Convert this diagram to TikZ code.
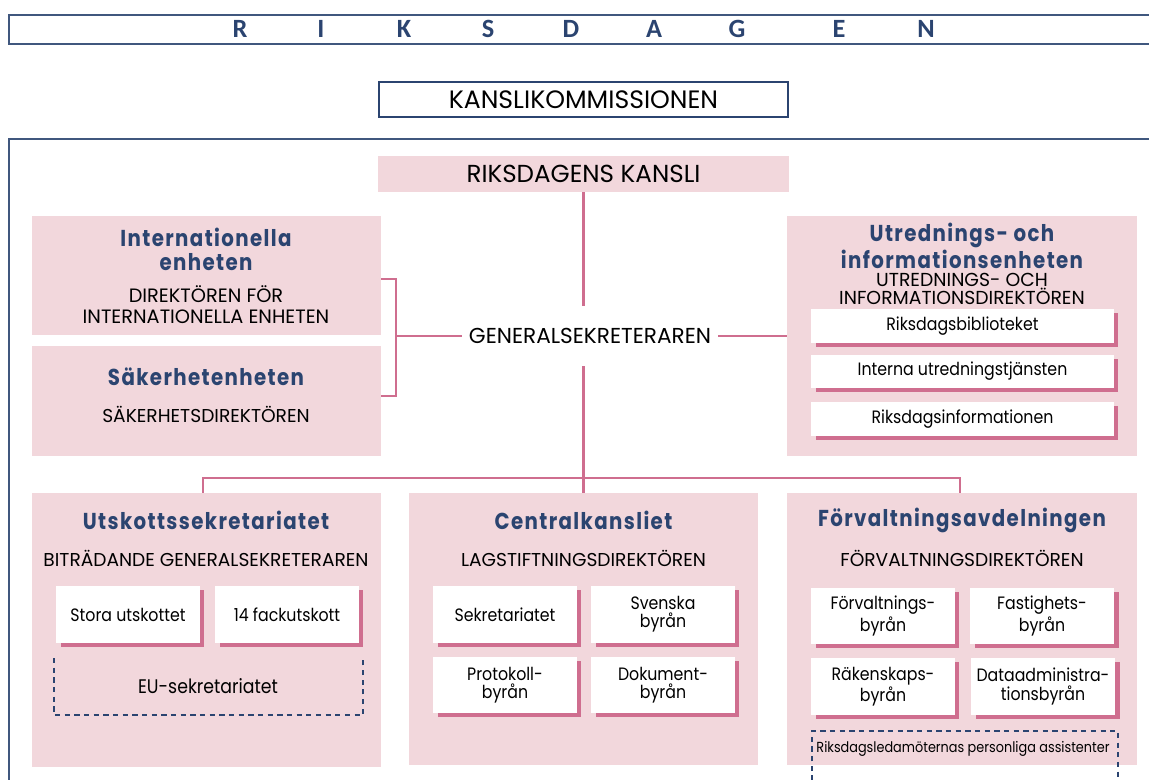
\documentclass[tikz,border=0pt]{standalone}
\usepackage{fontspec}
\setmainfont{Poppins}
\newfontfamily\subfont{Poppins}[FakeStretch=0.88]
\newfontfamily\bandfont{Carlito}
\newfontfamily\headfont{Poppins}[FakeStretch=0.86,LetterSpace=6]
\usetikzlibrary{fit,shadows}

\definecolor{pinkbg}{HTML}{F2D7DC}
\definecolor{rose}{HTML}{CF6E8F}
\definecolor{navy}{HTML}{2B4470}

\tikzset{
  unit/.style={fill=pinkbg,inner sep=0pt},
  head/.style={font=\headfont\bfseries\fontsize{13.1}{13.7}\selectfont,text=navy,align=center,inner sep=0pt},
  chief/.style={font=\fontsize{10.6}{12}\selectfont,align=center,inner sep=0pt},
  sub/.style={fill=white,minimum width=2.88cm,minimum height=1.14cm,align=center,inner sep=0pt,
    font=\subfont\fontsize{10.2}{10.3}\selectfont,
    drop shadow={shadow xshift=0.09cm,shadow yshift=-0.08cm,opacity=1,fill=rose}},
  widesub/.style={sub,minimum width=6.06cm,minimum height=0.68cm},
  link/.style={draw=rose,line width=1.3pt},
  dashbox/.style={draw=navy,line width=0.8pt,dash pattern=on 3pt off 2.5pt},
  frame/.style={draw=navy!90,line width=1.1pt}
}

\begin{document}
\begin{tikzpicture}[x=0.02cm,y=-0.02cm]
  \useasboundingbox (0,0) rectangle (1149,780);
  \clip (0,0) rectangle (1149,780);

  % top band
  \draw[frame] (9,15) rectangle (1170,44);
  \foreach \ch/\xx [count=\i] in {R/240,I/321,K/404,S/488,D/571,A/654,G/737,E/839,N/926}
    \node[font=\bandfont\bfseries\fontsize{15}{15}\selectfont,text=navy,inner sep=0pt] (band\i) at (\xx,29) {\ch};

  \node[draw=navy,line width=0.9pt,fill=white,minimum width=8.18cm,minimum height=0.7cm,
        font=\fontsize{14.3}{15}\selectfont,inner sep=0pt] (komm) at (583.5,99.5) {KANSLIKOMMISSIONEN};

  % outer frame
  \draw[frame] (9,800) |- (1170,139);

  \node[unit,minimum width=8.22cm,minimum height=0.72cm,font=\fontsize{14}{15}\selectfont] (kansli) at (583.5,174) {RIKSDAGENS KANSLI};
  \node[font=\fontsize{12.3}{14}\selectfont,minimum height=1.2cm,inner xsep=0.14cm,inner ysep=0pt] (gs) at (590,336) {GENERALSEKRETERAREN};

  % staff units
  \node[unit,fit={(32,216) (381,335)}] (intl) {};
  \node[unit,fit={(32,346) (381,456)}] (sak) {};
  \node[unit,fit={(787,216) (1137,456)}] (utr) {};

  \node[head] (intlhead) at (206,249) {Internationella\\enheten};
  \node[chief,font=\fontsize{11}{12}\selectfont] (intlchief) at (206,304.5) {DIREKTÖREN FÖR\\INTERNATIONELLA ENHETEN};
  \node[head] (sakhead) at (206,377) {Säkerhetenheten};
  \node[chief] (sakchief) at (206,414) {SÄKERHETSDIREKTÖREN};
  \node[head] (utrhead) at (962,246) {Utrednings- och\\informationsenheten};
  \node[chief,font=\fontsize{10.7}{10.3}\selectfont] (utrchief) at (962,289) {UTREDNINGS- OCH\\INFORMATIONSDIREKTÖREN};
  \node[widesub] (bibl) at (962.5,326) {Riksdagsbiblioteket};
  \node[widesub] (intern) at (962.5,371.5) {Interna utredningstjänsten};
  \node[widesub] (info) at (962.5,419) {Riksdagsinformationen};

  % line units
  \node[unit,fit={(32,493) (381,767)}] (utsk) {};
  \node[unit,fit={(409,493) (758,765)}] (central) {};
  \node[unit,fit={(787,493) (1137,765)}] (forv) {};

  \node[head] (utskhead) at (206,520) {Utskottssekretariatet};
  \node[chief] (utskchief) at (206,558) {BITRÄDANDE GENERALSEKRETERAREN};
  \node[sub] (stora) at (128,614.5) {Stora utskottet};
  \node[sub] (fack) at (287,614.5) {14 fackutskott};
  \draw[dashbox] (54,658) |- (363,715) -- (363,658);
  \node[font=\subfont\fontsize{11.2}{12}\selectfont] (eu) at (208,686) {EU-sekretariatet};

  \node[head] (centralhead) at (583.5,520) {Centralkansliet};
  \node[chief] (centralchief) at (583.5,558) {LAGSTIFTNINGSDIREKTÖREN};
  \node[sub] (sekr) at (505,614.5) {Sekretariatet};
  \node[sub] (svenska) at (663,614.5) {Svenska\\byrån};
  \node[sub] (prot) at (505,685) {Protokoll-\\byrån};
  \node[sub] (dok) at (663,685) {Dokument-\\byrån};

  \node[head] (forvhead) at (962,520) {Förvaltningsavdelningen};
  \node[chief] (forvchief) at (962,558) {FÖRVALTNINGSDIREKTÖREN};
  \node[sub] (forvb) at (883,616) {Förvaltnings-\\byrån};
  \node[sub] (fast) at (1042,616) {Fastighets-\\byrån};
  \node[sub] (rak) at (883,686.5) {Räkenskaps-\\byrån};
  \node[sub] (data) at (1043,686.5) {Dataadministra-\\tionsbyrån};
  \draw[dashbox] (812,800) |- (1118,731) -- (1118,800);
  \node[font=\subfont\fontsize{8.3}{10}\selectfont] (ass) at (963,749) {Riksdagsledamöternas personliga assistenter};

  % connectors
  \coordinate (brkT) at (396,279);
  \coordinate (brkB) at (396,396);
  \coordinate (busL) at (203,478);
  \coordinate (busR) at (960,478);
  \draw[link] (kansli.south) -- (kansli.south |- gs.north);
  \draw[link] (intl.east |- brkT) -- (brkT) -- (brkB) -- (sak.east |- brkB);
  \draw[link] (brkT |- gs.west) -- (gs.west);
  \draw[link] (gs.east) -- (utr.west);
  \draw[link] (gs.south -| kansli.south) -- (central.north);
  \draw[link] (busL |- utsk.north) -- (busL) -- (busR) -- (busR |- forv.north);
\end{tikzpicture}
\end{document}
